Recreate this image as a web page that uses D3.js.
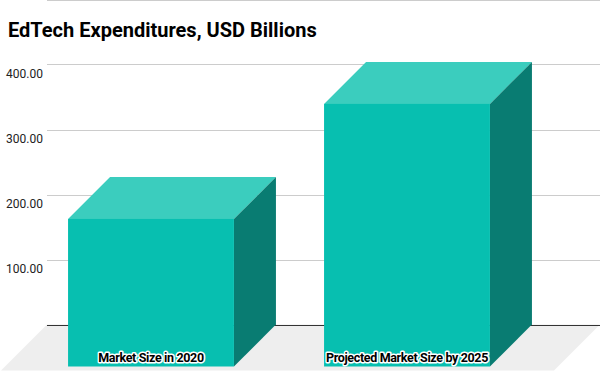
<!DOCTYPE html>
<html>
<head>
<meta charset="utf-8">
<script src="https://cdn.jsdelivr.net/npm/d3@7"></script>
<style>
  html, body { margin: 0; padding: 0; background: #fff; }
  svg { display: block; font-family: Roboto, "Liberation Sans", sans-serif; }
</style>
</head>
<body>
<div id="chart"></div>
<script>
    // data
    var categories = ["Market Size in 2020", "Projected Market Size by 2025"];
    var values = [227, 404];
    var tickValues = [100, 200, 300, 400];
    var tickLabels = ["100.00", "200.00", "300.00", "400.00"];
    var title = "EdTech Expenditures, USD Billions";

    var width = 600, height = 371;
    var depth = 42;       // 3d offset of the bars
    var floorDepth = 46;  // 3d offset of the floor

    var svg = d3.select("#chart")
        .append("svg")
        .attr("width", width)
        .attr("height", height);

    // y on the back wall
    var y = d3.scaleLinear()
        .domain([0, 500])
        .range([324.5, -0.5]);

    // x on the front plane
    var x = d3.scaleBand()
        .domain(categories)
        .range([23, 535])
        .paddingInner(0.352)
        .paddingOuter(0.176);

    var wallLeft = 47;

    // floor
    svg.append("polygon")
        .attr("points", [
            [wallLeft, y(0)], [width, y(0)],
            [width - floorDepth, y(0) + floorDepth], [wallLeft - floorDepth, y(0) + floorDepth]
        ].join(" "))
        .attr("fill", "#eeeeee");

    // gridlines (500 sits at the top edge, no label)
    svg.append("g")
        .selectAll("line")
        .data(tickValues.concat([500]))
        .enter()
        .append("line")
        .attr("x1", wallLeft)
        .attr("x2", width)
        .attr("y1", function (d) { return Math.round(y(d)) + 0.5; })
        .attr("y2", function (d) { return Math.round(y(d)) + 0.5; })
        .attr("stroke", "#cccccc")
        .attr("stroke-width", 1);

    // baseline
    svg.append("line")
        .attr("x1", wallLeft)
        .attr("x2", width)
        .attr("y1", Math.round(y(0)) + 0.5)
        .attr("y2", Math.round(y(0)) + 0.5)
        .attr("stroke", "#333333")
        .attr("stroke-width", 1);

    // y labels
    svg.append("g")
        .selectAll("text")
        .data(tickValues)
        .enter()
        .append("text")
        .attr("x", 43)
        .attr("y", function (d) { return y(d) + 13; })
        .attr("text-anchor", "end")
        .attr("font-size", 12)
        .attr("fill", "#222")
        .text(function (d, i) { return tickLabels[i]; });

    // bars
    var bars = svg.append("g")
        .selectAll("g")
        .data(categories)
        .enter()
        .append("g");

    // top face
    bars.append("polygon")
        .attr("points", function (d, i) {
            var x0 = x(d), x1 = x(d) + x.bandwidth(), yt = y(values[i]) + depth;
            return [[x0, yt], [x1, yt], [x1 + depth, yt - depth], [x0 + depth, yt - depth]].join(" ");
        })
        .attr("fill", "#3bcdbe");

    // side face
    bars.append("polygon")
        .attr("points", function (d, i) {
            var x1 = x(d) + x.bandwidth(), yt = y(values[i]) + depth, yb = y(0) + depth;
            return [[x1, yt], [x1 + depth, yt - depth], [x1 + depth, yb - depth], [x1, yb]].join(" ");
        })
        .attr("fill", "#097c72");

    // front face
    bars.append("rect")
        .attr("x", function (d) { return x(d); })
        .attr("y", function (d, i) { return y(values[i]) + depth; })
        .attr("width", x.bandwidth())
        .attr("height", function (d, i) { return y(0) - y(values[i]); })
        .attr("fill", "#07bfb0");

    // category labels inside the front face
    bars.append("text")
        .attr("x", function (d) { return x(d) + x.bandwidth() / 2; })
        .attr("y", 362)
        .attr("text-anchor", "middle")
        .attr("font-size", 12.5)
        .attr("font-weight", "bold")
        .attr("letter-spacing", -0.35)
        .attr("fill", "#000")
        .attr("stroke", "#fff")
        .attr("stroke-width", 3)
        .attr("stroke-linejoin", "round")
        .attr("paint-order", "stroke")
        .text(function (d) { return d; });

    // title
    svg.append("text")
        .attr("x", 8)
        .attr("y", 37)
        .attr("font-size", 20)
        .attr("font-weight", "bold")
        .attr("fill", "#000")
        .text(title);
</script>
</body>
</html>
